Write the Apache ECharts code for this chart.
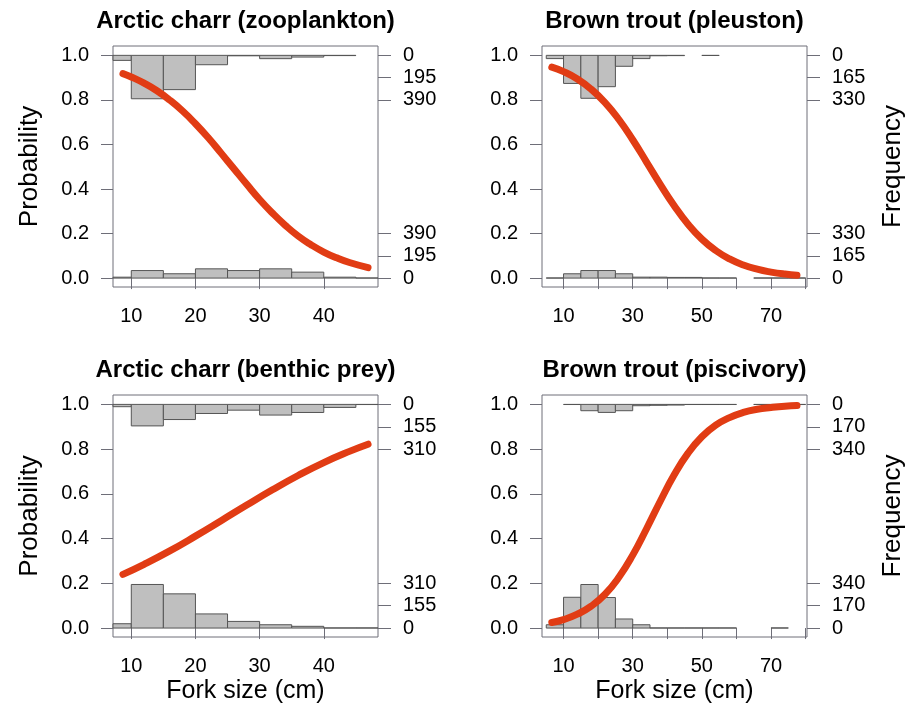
<!DOCTYPE html>
<html>
<head>
<meta charset="utf-8">
<script src="https://cdn.jsdelivr.net/npm/echarts@6/dist/echarts.min.js"></script>
<style>
html, body { margin: 0; background: #fff; }
#chart { width: 919px; height: 711px; }
</style>
</head>
<body>
<div id="chart"></div>
<script>
const FONT = '"Liberation Sans", Arial, Helvetica, sans-serif'
const BOX = '#6e6e78'

// tick values
const probTicks = [0, 0.2, 0.4, 0.6, 0.8, 1.0]
const charrSizeTicks = [10, 20, 30, 40]
const troutSizeTicks = [10, 20, 30, 40, 50, 60, 70, 80]
const troutSizeLabels = [10, 30, 50, 70]

const titles = ['Arctic charr (zooplankton)', 'Brown trout (pleuston)',
    'Arctic charr (benthic prey)', 'Brown trout (piscivory)']

// fitted curves
const charrZooSize = [8.7, 10, 12, 14, 16, 18, 20, 22, 24, 26, 28, 30, 32, 34, 36, 38, 40, 42, 44, 46.9]
const charrZooProb = [0.918, 0.903, 0.875, 0.841, 0.799, 0.750, 0.693, 0.630, 0.561, 0.491, 0.421, 0.353, 0.292, 0.237, 0.189, 0.150, 0.117, 0.091, 0.070, 0.047]
const troutPleuSize = [6.6, 10, 14, 18, 22, 26, 30, 34, 38, 42, 46, 50, 54, 58, 62, 66, 70, 74, 77.5]
const troutPleuProb = [0.947, 0.927, 0.894, 0.848, 0.788, 0.712, 0.621, 0.521, 0.420, 0.325, 0.242, 0.175, 0.124, 0.086, 0.059, 0.040, 0.027, 0.018, 0.013]
const charrBenSize = [8.7, 12, 16, 20, 24, 28, 32, 36, 40, 44, 46.9]
const charrBenProb = [0.240, 0.285, 0.345, 0.411, 0.480, 0.550, 0.618, 0.682, 0.740, 0.790, 0.822]
const troutPiscSize = [6.6, 10, 14, 18, 22, 26, 30, 34, 38, 42, 46, 50, 54, 58, 62, 66, 70, 74, 77.5]
const troutPiscProb = [0.025, 0.038, 0.062, 0.098, 0.151, 0.227, 0.326, 0.444, 0.568, 0.685, 0.782, 0.855, 0.907, 0.941, 0.964, 0.978, 0.986, 0.992, 0.995]

// histogram bins (5 cm) and counts: top = diet present (hanging from 1), bottom = absent
const charrBins = [5, 10, 15, 20, 25, 30, 35, 40, 45, 50]
const troutBins = [5, 10, 15, 20, 25, 30, 35, 40, 45, 50, 55, 60, 65, 70, 75, 80]

const charrZooTop = [44, 380, 300, 82, 4, 29, 15, 2, 0]
const charrZooBottom = [8, 66, 38, 81, 66, 81, 52, 8, 1]
const charrZooFreqTicks = [0, 195, 390]

const troutPleuTop = [24, 208, 318, 232, 81, 24, 3, 2, 0, 1, 0, 0, 0, 0, 0]
const troutPleuBottom = [1, 32, 56, 56, 32, 7, 7, 5, 5, 1, 1, 0, 1, 1, 1]
const troutPleuFreqTicks = [0, 165, 330]

const charrBenTop = [16, 149, 105, 63, 40, 74, 56, 21, 1]
const charrBenBottom = [30, 302, 237, 98, 46, 23, 12, 1, 1]
const charrBenFreqTicks = [0, 155, 310]

const troutPiscTop = [0, 1, 48, 61, 48, 10, 7, 5, 1, 1, 1, 0, 1, 1, 1]
const troutPiscBottom = [25, 234, 331, 232, 69, 25, 1, 1, 1, 1, 1, 0, 0, 1, 0]
const troutPiscFreqTicks = [0, 170, 340]

const panels = [
    { size: charrZooSize, prob: charrZooProb, bins: charrBins, top: charrZooTop, bottom: charrZooBottom,
      freq: charrZooFreqTicks, xTicks: charrSizeTicks, xLabels: charrSizeTicks, xMin: 7.15, xMax: 48.45 },
    { size: troutPleuSize, prob: troutPleuProb, bins: troutBins, top: troutPleuTop, bottom: troutPleuBottom,
      freq: troutPleuFreqTicks, xTicks: troutSizeTicks, xLabels: troutSizeLabels, xMin: 3.77, xMax: 80.4 },
    { size: charrBenSize, prob: charrBenProb, bins: charrBins, top: charrBenTop, bottom: charrBenBottom,
      freq: charrBenFreqTicks, xTicks: charrSizeTicks, xLabels: charrSizeTicks, xMin: 7.15, xMax: 48.45 },
    { size: troutPiscSize, prob: troutPiscProb, bins: troutBins, top: troutPiscTop, bottom: troutPiscBottom,
      freq: troutPiscFreqTicks, xTicks: troutSizeTicks, xLabels: troutSizeLabels, xMin: 3.77, xMax: 80.4 }
]

const boxes = [
    { left: 113, top: 46, width: 265, height: 241 },
    { left: 542, top: 46, width: 265, height: 241 },
    { left: 113, top: 395, width: 265, height: 242 },
    { left: 542, top: 395, width: 265, height: 242 }
]

const tickStyle = { color: BOX, width: 1 }
const labelStyle = { color: '#000', fontFamily: FONT, fontSize: 20 }
const nameStyle = { color: '#000', fontFamily: FONT, fontSize: 25 }
const yNameStyle = { color: '#000', fontFamily: FONT, fontSize: 26 }

// draws one bar per bin, scaled so that the largest tick = 0.2 probability units
function histRender (fromTop, maxTick) {
    return function (params, api) {
        const n = api.value(2)
        if (!n) return
        const h = n / maxTick * 0.2
        const base = fromTop ? 1 : 0
        const end = fromTop ? 1 - h : h
        const a = api.coord([api.value(0), base])
        const b = api.coord([api.value(1), end])
        const cs = params.coordSys
        const x0 = Math.max(a[0], cs.x)
        const x1 = Math.min(b[0], cs.x + cs.width)
        if (x1 <= x0) return
        return {
            type: 'rect',
            shape: { x: x0, y: Math.min(a[1], b[1]), width: x1 - x0, height: Math.abs(b[1] - a[1]) },
            style: { fill: '#bfbfbf', stroke: '#555', lineWidth: 1 }
        }
    }
}

const grid = [], xAxis = [], yAxis = [], series = [], graphic = []

panels.forEach((p, i) => {
    const maxTick = p.freq[p.freq.length - 1]
    grid.push(Object.assign({ show: true, borderColor: BOX, borderWidth: 1, backgroundColor: 'transparent' }, boxes[i]))

    xAxis.push({
        type: 'value', gridIndex: i, min: p.xMin, max: p.xMax,
        axisLine: { show: false },
        splitLine: { show: false },
        axisTick: { show: true, length: 11, lineStyle: tickStyle, customValues: p.xTicks },
        axisLabel: Object.assign({ margin: 19, customValues: p.xLabels }, labelStyle),
        name: i >= 2 ? 'Fork size (cm)' : '',
        nameLocation: 'middle', nameGap: 42, nameTextStyle: nameStyle
    })

    yAxis.push({
        type: 'value', gridIndex: i, min: -0.04, max: 1.042, position: 'left',
        axisLine: { show: false },
        splitLine: { show: false },
        axisTick: { show: true, length: 12, lineStyle: tickStyle, customValues: probTicks },
        axisLabel: Object.assign({ margin: 24, customValues: probTicks, formatter: v => v.toFixed(1) }, labelStyle),
        name: i % 2 === 0 ? 'Probability' : '',
        nameLocation: 'middle', nameGap: 70, nameRotate: 90, nameTextStyle: yNameStyle
    })

    const rightVals = p.freq.map(f => 1 - f / maxTick * 0.2).concat(p.freq.map(f => f / maxTick * 0.2))
    yAxis.push({
        type: 'value', gridIndex: i, min: -0.04, max: 1.042, position: 'right',
        axisLine: { show: false },
        splitLine: { show: false },
        axisTick: { show: true, length: 13, lineStyle: tickStyle, customValues: rightVals },
        axisLabel: Object.assign({
            margin: 25, customValues: rightVals, align: 'left',
            formatter: v => String(Math.round((v > 0.5 ? 1 - v : v) / 0.2 * maxTick))
        }, labelStyle),
        name: i % 2 === 1 ? 'Frequency' : '',
        nameLocation: 'middle', nameGap: 73, nameRotate: 90, nameTextStyle: yNameStyle
    })

    const binData = counts => counts.map((c, k) => [p.bins[k], p.bins[k + 1], c])
    series.push({
        type: 'custom', xAxisIndex: i, yAxisIndex: i * 2,
        renderItem: histRender(true, maxTick), data: binData(p.top), z: 2
    })
    series.push({
        type: 'custom', xAxisIndex: i, yAxisIndex: i * 2,
        renderItem: histRender(false, maxTick), data: binData(p.bottom), z: 2
    })
    series.push({
        type: 'line', xAxisIndex: i, yAxisIndex: i * 2,
        data: p.size.map((x, k) => [x, p.prob[k]]),
        smooth: true, symbol: 'none',
        lineStyle: { color: '#e13c14', width: 7, cap: 'round', join: 'round' },
        z: 5
    })

    graphic.push({
        type: 'text',
        x: boxes[i].left + boxes[i].width / 2,
        y: boxes[i].top - 25,
        style: {
            text: titles[i], fill: '#000', fontFamily: FONT, fontSize: 24, fontWeight: 'bold',
            align: 'center', verticalAlign: 'middle'
        }
    })
})

const chart = echarts.init(document.getElementById('chart'))
chart.setOption({
    animation: false,
    backgroundColor: '#fff',
    grid, xAxis, yAxis, series, graphic
})
window.addEventListener('resize', () => chart.resize())
</script>
</body>
</html>
